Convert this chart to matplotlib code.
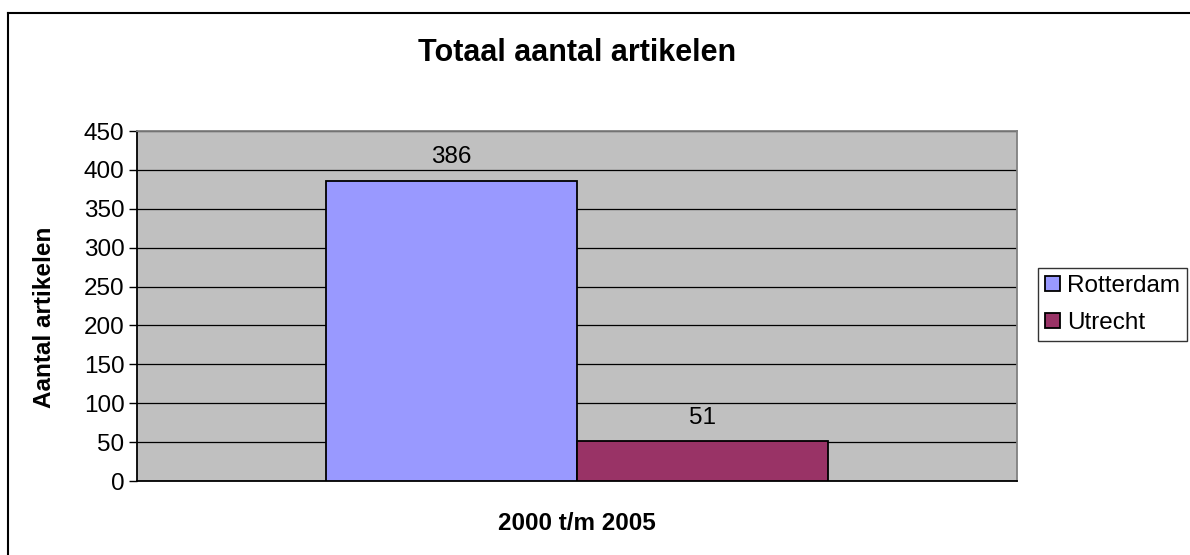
import matplotlib
matplotlib.use('Agg')
import matplotlib.pyplot as plt
from matplotlib.lines import Line2D

plt.rcParams['font.family'] = ['Liberation Sans', 'DejaVu Sans']

# data
series = ['Rotterdam', 'Utrecht']
values = [386, 51]
colors = ['#9999FF', '#993366']
category = '2000 t/m 2005'
yticks = list(range(0, 451, 50))

W, H, DPI = 1190, 555, 100
FS = 17.5
fig = plt.figure(figsize=(W / DPI, H / DPI), dpi=DPI)
fig.patch.set_facecolor('white')

# outer chart border (right/bottom run off the image)
fig.add_artist(Line2D([8 / W, 8 / W], [0, 1 - 13 / H], transform=fig.transFigure,
                      color='black', lw=1.5))
fig.add_artist(Line2D([8 / W, 1], [1 - 13 / H, 1 - 13 / H], transform=fig.transFigure,
                      color='black', lw=1.5))

ax = fig.add_axes([137 / W, 1 - 481 / H, (1017 - 137) / W, (481 - 131) / H])
ax.set_facecolor('#C0C0C0')

bw = 0.285
xs = [-bw / 2, bw / 2]
bars = ax.bar(xs, values, width=bw, color=colors, edgecolor='black', lw=1.3,
              zorder=3)

for x, v in zip(xs, values):
    ax.annotate(str(v), (x, v), xytext=(0, 9), textcoords='offset points',
                ha='center', va='bottom', fontsize=FS)

ax.set_xlim(-0.5, 0.5)
ax.set_ylim(0, 450)
ax.set_yticks(yticks)
ax.yaxis.grid(True, color='black', lw=0.9, zorder=1)
ax.set_axisbelow(True)
ax.tick_params(axis='y', labelsize=FS, direction='out', length=6, width=1,
               pad=3)
ax.set_xticks([])

for s in ['left', 'bottom']:
    ax.spines[s].set_color('black')
    ax.spines[s].set_linewidth(1.3)
for s in ['top', 'right']:
    ax.spines[s].set_color('#808080')
    ax.spines[s].set_linewidth(1.3)

fig.text(577 / W, 1 - 53 / H, 'Totaal aantal artikelen', ha='center', va='center',
         fontsize=22, fontweight='bold')
fig.text(577 / W, 1 - 523 / H, category, ha='center', va='center',
         fontsize=FS, fontweight='bold')
fig.text(45 / W, 1 - 317 / H, 'Aantal artikelen', ha='center', va='center',
         rotation=90, fontsize=FS, fontweight='bold')

leg = fig.legend(handles=list(bars), labels=series, loc='center left',
                 bbox_to_anchor=(1038 / W, 1 - 304.5 / H), fontsize=FS,
                 frameon=True, fancybox=False, edgecolor='black',
                 handlelength=0.6, handleheight=0.6, handletextpad=0.3,
                 labelspacing=0.6, borderpad=0.3, borderaxespad=0)
leg.get_frame().set_linewidth(1.0)

plt.savefig('out.png', dpi=DPI, facecolor='white')
